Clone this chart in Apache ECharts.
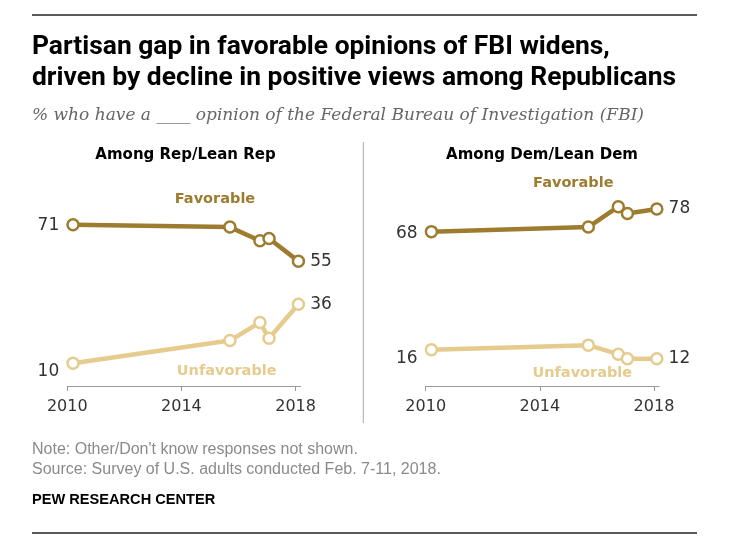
<!DOCTYPE html>
<html><head><meta charset="utf-8">
<script src="https://cdn.jsdelivr.net/npm/echarts@6/dist/echarts.min.js"></script>
<style>html,body{margin:0;padding:0;background:#fff}#c{width:737px;height:542px}</style>
</head><body><div id="c"></div>
<script>
// ---- data ----
const surveyYears = [2010.2, 2015.7, 2016.75, 2017.07, 2018.1];
const xTickYears = [2010, 2014, 2018];
const repFavorable = [71, 70, 64, 65, 55];
const repUnfavorable = [10, 20, 28, 21, 36];
const demFavorable = [68, 70, 79, 76, 78];
const demUnfavorable = [16, 18, 14, 12, 12];
const panelTitles = ['Among Rep/Lean Rep', 'Among Dem/Lean Dem'];
const seriesNames = ['Favorable', 'Unfavorable'];

// ---- style ----
const FAV = '#9d7c30', UNF = '#e5cb8d';
const numFont = 'DejaVu Sans';

function buildData(vals, firstOffset) {
  return vals.map((v, i) => {
    const item = { value: [surveyYears[i], v] };
    if (i === 0) item.label = { show: true, position: 'left', distance: 7, offset: [0, firstOffset] };
    if (i === vals.length - 1) item.label = { show: true, position: 'right', distance: 5 };
    return item;
  });
}
function lineSeries(name, vals, color, idx, firstOffset) {
  return {
    name, type: 'line', xAxisIndex: idx, yAxisIndex: idx,
    data: buildData(vals, firstOffset),
    symbol: 'circle', symbolSize: 11, showSymbol: true,
    lineStyle: { color, width: 4.5 },
    itemStyle: { color: '#fff', borderColor: color, borderWidth: 2.5 },
    label: { show: false, color: '#333', fontSize: 17, fontFamily: numFont, formatter: p => p.value[1] },
    emphasis: { disabled: true }, silent: true, animation: false
  };
}
function xAxis(idx) {
  return {
    gridIndex: idx, type: 'value', min: 2010, max: 2018.18,
    axisLine: { show: true, lineStyle: { color: '#999', width: 1 } },
    axisTick: { show: true, length: 5, customValues: xTickYears, lineStyle: { color: '#999' } },
    axisLabel: { customValues: xTickYears, fontSize: 16, color: '#333', margin: 13, fontFamily: numFont, formatter: v => String(v) },
    splitLine: { show: false }
  };
}
function yAxis(idx) { return { gridIndex: idx, type: 'value', min: 0, max: 100, show: false }; }

function txt(text, x, y, o) {
  return { type: 'text', x, y, silent: true, style: Object.assign({ text, textAlign: 'left', textVerticalAlign: 'middle', fill: '#000', fontSize: 14, fontFamily: 'Liberation Sans' }, o || {}) };
}
const titleFont = { fontSize: 26.4, fontWeight: 'bold', fontFamily: 'Roboto' };

const chart = echarts.init(document.getElementById('c'), null, { renderer: 'canvas' });
chart.setOption({
  backgroundColor: '#fff',
  animation: false,
  grid: [
    { left: 67.3, top: 159, width: 233.4, height: 227 },
    { left: 425.7, top: 159, width: 233.4, height: 227 }
  ],
  xAxis: [xAxis(0), xAxis(1)],
  yAxis: [yAxis(0), yAxis(1)],
  series: [
    lineSeries(seriesNames[0], repFavorable, FAV, 0, 1),
    lineSeries(seriesNames[1], repUnfavorable, UNF, 0, 8),
    lineSeries(seriesNames[0], demFavorable, FAV, 1, 2),
    lineSeries(seriesNames[1], demUnfavorable, UNF, 1, 9)
  ],
  graphic: [
    { type: 'line', silent: true, shape: { x1: 32, y1: 15, x2: 697, y2: 15 }, style: { stroke: '#222', lineWidth: 1.5 } },
    { type: 'line', silent: true, shape: { x1: 32, y1: 533, x2: 697, y2: 533 }, style: { stroke: '#222', lineWidth: 1.5 } },
    { type: 'line', silent: true, shape: { x1: 363.3, y1: 142, x2: 363.3, y2: 423 }, style: { stroke: '#aaa', lineWidth: 1 } },
    txt('Partisan gap in favorable opinions of FBI widens,', 32, 47, titleFont),
    txt('driven by decline in positive views among Republicans', 32, 78, titleFont),
    txt('% who have a ____ opinion of the Federal Bureau of Investigation (FBI)', 32, 116, { fontSize: 17, fontStyle: 'italic', fontFamily: 'DejaVu Serif', fill: '#666' }),
    txt(panelTitles[0], 185.5, 155, { textAlign: 'center', fontSize: 15, fontWeight: 'bold', fontFamily: 'DejaVu Sans' }),
    txt(panelTitles[1], 542, 155, { textAlign: 'center', fontSize: 15, fontWeight: 'bold', fontFamily: 'DejaVu Sans' }),
    txt(seriesNames[0], 215, 199, { textAlign: 'center', fontSize: 14.5, fontWeight: 'bold', fontFamily: 'DejaVu Sans', fill: FAV }),
    txt(seriesNames[0], 573.3, 183.3, { textAlign: 'center', fontSize: 14.5, fontWeight: 'bold', fontFamily: 'DejaVu Sans', fill: FAV }),
    txt(seriesNames[1], 226.7, 371.7, { textAlign: 'center', fontSize: 14.5, fontWeight: 'bold', fontFamily: 'DejaVu Sans', fill: UNF }),
    txt(seriesNames[1], 582.3, 373.3, { textAlign: 'center', fontSize: 14.5, fontWeight: 'bold', fontFamily: 'DejaVu Sans', fill: UNF }),
    txt("Note: Other/Don't know responses not shown.", 32, 450, { fontSize: 16, fill: '#8a8a8a' }),
    txt('Source: Survey of U.S. adults conducted Feb. 7-11, 2018.', 32, 470, { fontSize: 16, fill: '#8a8a8a' }),
    txt('PEW RESEARCH CENTER', 32, 500, { fontSize: 14.6, fontWeight: 'bold' })
  ]
});
</script>
</body></html>
